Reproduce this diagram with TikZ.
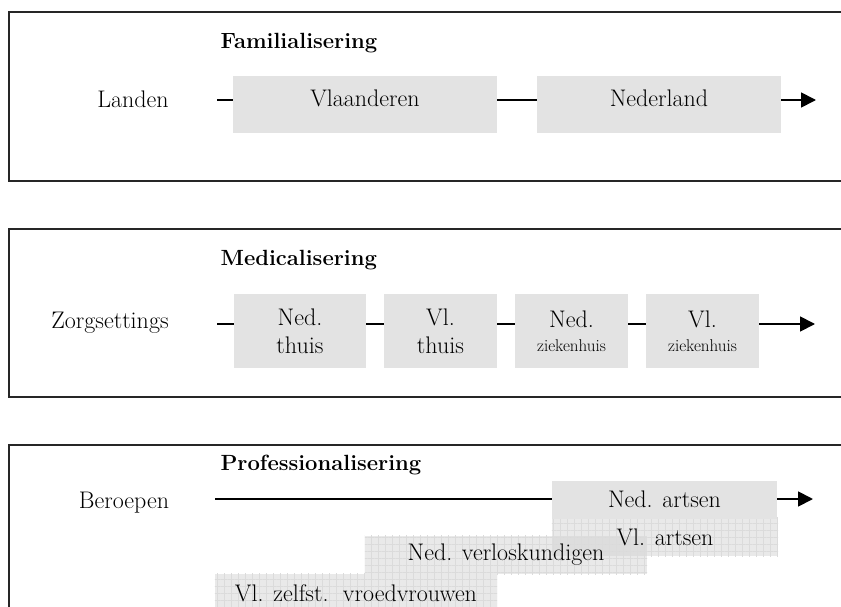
\documentclass[tikz,border=0pt]{standalone}
\usetikzlibrary{arrows.meta,positioning,patterns.meta,backgrounds}

\begin{document}
\begin{tikzpicture}[x=1pt,y=-1pt,font=\fontsize{24}{28}\selectfont,>={Triangle[length=15pt,width=15pt]},
  frame/.style={line width=1.6pt,draw=black!85},
  link/.style={line width=1.8pt},
  title/.style={anchor=west,font=\bfseries\fontsize{22}{28}\selectfont},
  land/.style={fill=gray!22,minimum width=264pt,minimum height=57pt,inner sep=0pt,text height=17pt,text depth=13pt},
  zorg/.style={fill=gray!22,minimum width=113pt,minimum height=74pt,inner sep=0pt,align=center},
  beroep/.style={minimum width=282pt,minimum height=38pt,inner sep=0pt},
  raster/.style={fill=gray!38,fill opacity=.45,
    postaction={pattern={Lines[angle=0,distance=7pt,line width=.4pt]},pattern color=gray!28},
    postaction={pattern={Lines[angle=90,distance=7pt,line width=.4pt]},pattern color=gray!28}}]
\useasboundingbox (0,0) rectangle (841,607);

% Familialisering
\draw[frame] (841,12) -| (9,181) -- (841,181);
\node[title] (fam) at (217,43) {Familialisering};
\node (landen) at (133,99) {Landen};
\coordinate (l0) at (217,100);
\node[land] (vla) at (365,104.5) {Vlaanderen};
\node[land,minimum width=244pt] (ned) at (659,104.5) {Nederland};
\coordinate (l1) at (816,100);
\draw[link] (l0) -- (vla.west |- l0);
\draw[link] (vla.east |- l0) -- (ned.west |- l0);
\draw[link,->] (ned.east |- l0) -- (l1);

% Medicalisering
\draw[frame] (841,229) -| (9,397) -- (841,397);
\node[title] (med) at (217,260) {Medicalisering};
\node (zorgset) at (110,323) {Zorgsettings};
\coordinate (z0) at (217,324);
\node[zorg,minimum width=132pt] (nthuis) at (300,331) {Ned.\\thuis};
\node[zorg] (vthuis) at (440.5,331) {Vl.\\thuis};
\node[zorg] (nzh) at (571.5,331) {Ned.\\[-4pt]\fontsize{17}{20}\selectfont ziekenhuis};
\node[zorg] (vzh) at (702.5,331) {Vl.\\[-4pt]\fontsize{17}{20}\selectfont ziekenhuis};
\coordinate (z1) at (815,324);
\draw[link] (z0) -- (nthuis.west |- z0);
\draw[link] (nthuis.east |- z0) -- (vthuis.west |- z0);
\draw[link] (vthuis.east |- z0) -- (nzh.west |- z0);
\draw[link] (nzh.east |- z0) -- (vzh.west |- z0);
\draw[link,->] (vzh.east |- z0) -- (z1);

% Professionalisering
\draw[frame] (841,445) -| (9,612);
\node[title] (prof) at (217,465) {Professionalisering};
\node (beroepen) at (124,503) {Beroepen};
\coordinate (b0) at (215,499);
\node[beroep,fill=gray!22,minimum width=225pt] (nart) at (664.5,499.5) {Ned. artsen};
\node[beroep,minimum width=226pt] (vart) at (665,537) {Vl. artsen};
\node[beroep] (nverl) at (506,555) {Ned. verloskundigen};
\node[beroep] (vzelf) at (356,593) {Vl. zelfst.\ \ vroedvrouwen};
\coordinate (b1) at (813,499);
\draw[link] (b0) -- (nart.west |- b0);
\draw[link,->] (nart.east |- b0) -- (b1);
\begin{scope}[on background layer]
\foreach \b in {vart,nverl,vzelf}
  \path[raster] (\b.south west) rectangle (\b.north east);
\end{scope}
\end{tikzpicture}
\end{document}
